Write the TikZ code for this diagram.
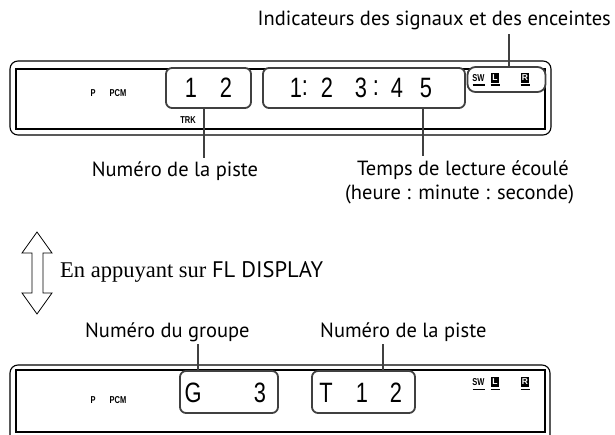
\documentclass[tikz,border=0pt]{standalone}
\usepackage{fontspec}
\setmainfont{Liberation Serif}
\setsansfont{PT Sans}
\newfontfamily\digfont{Liberation Sans}
\definecolor{boxgray}{HTML}{404040}
\begin{document}
\begin{tikzpicture}[x=1pt,y=-1pt,
  frame/.style={draw=black,line width=1.1pt},
  dbox/.style={draw=boxgray,line width=1.8pt,rounded corners=6pt,fill=white,inner sep=0pt},
  leader/.style={draw=boxgray,line width=1.8pt},
  lbl/.style={font=\sffamily\fontsize{20.5}{22}\selectfont,inner sep=0pt},
  dig/.style={font=\digfont\fontsize{28}{28}\selectfont,xscale=0.78,inner sep=0pt},
  small/.style={font=\digfont\bfseries\fontsize{10}{10}\selectfont,xscale=0.75,inner sep=0pt},
  blk/.style={fill=black,text=white,font=\digfont\bfseries\fontsize{8.5}{8.5}\selectfont,minimum width=8.5pt,minimum height=9.5pt,inner sep=0pt},
  uline/.style={draw=black,line width=1.6pt}]
\useasboundingbox (0,0) rectangle (615,435);
\begin{scope}
\clip (0,0) rectangle (615,435);
% top display
\draw[frame,rounded corners=8pt] (10,61) rectangle (551,135);
\draw[frame] (16,69) rectangle (545,129);
\node[small] (p1) at (93,93) {P};
\node[small] (pcm1) at (118,93) {PCM};
\node[small] (trk1) at (188,120) {TRK};
\node[dbox,minimum width=85pt,minimum height=40pt] (trk) at (208.5,88) {};
\node[dbox,minimum width=202pt,minimum height=40pt] (time) at (364,88) {};
\node[dbox,rounded corners=8pt,minimum width=78pt,minimum height=25pt] (ind) at (506.5,79.5) {};
\node[dig] (a1) at (191,88) {1};
\node[dig] (a2) at (226,88) {2};
\node[dig] (b1) at (296,88) {1};
\node[dig] (b2) at (305,88) {:};
\node[dig] (b3) at (327,88) {2};
\node[dig] (b4) at (361,88) {3};
\node[dig] (b5) at (376,88) {:};
\node[dig] (b6) at (397,88) {4};
\node[dig] (b7) at (426,88) {5};
\node[small] (sw1) at (478.5,78) {SW};
\node[blk] (l1) at (495,78) {L};
\node[blk] (r1) at (525,78) {R};
\draw[uline] (472.5,85) -- (485,85);
\draw[uline] (490.5,85) -- (499.5,85);
\draw[uline] (520.5,85) -- (529.5,85);
% top labels
\node[lbl,anchor=east] (indl) at (611,20) {Indicateurs des signaux et des enceintes};
\coordinate (ic) at (509,34);
\draw[leader] (ind.north -| ic) -- (ic);
\node[lbl] (trkl) at (175,171) {Numéro de la piste};
\coordinate (tc) at (204,158);
\draw[leader] (trk.south -| tc) -- (tc);
\node[lbl,anchor=west] (timel) at (357,170) {Temps de lecture écoulé};
\node[lbl,anchor=west] (timel2) at (345,194) {(heure : minute : seconde)};
\coordinate (mc) at (423,156);
\draw[leader] (time.south -| mc) -- (mc);
% double arrow
\draw[line width=0.8pt,line join=miter] (37,232) -- (52,253) -- (43,253) -- (43,293) -- (52,293) -- (37,314) -- (22,293) -- (32,293) -- (32,253) -- (22,253) -- cycle;
\node[anchor=west,inner sep=0pt,font=\fontsize{22.5}{24}\selectfont] (fl) at (60,272) {En appuyant sur {\sffamily FL DISPLAY}};
% bottom display
\draw[frame,rounded corners=8pt] (10,445) -- (10,365) -- (550,365) -- (550,445);
\draw[frame] (16,370) rectangle (545,432);
\node[small] (p2) at (93,400) {P};
\node[small] (pcm2) at (118,400) {PCM};
\node[dbox,minimum width=98pt,minimum height=42pt] (grp) at (229,392) {};
\node[dbox,minimum width=103pt,minimum height=42pt] (trk2) at (363.5,392) {};
\node[dig] (g1) at (193,393) {G};
\node[dig] (g2) at (260,393) {3};
\node[dig] (t1) at (326,393) {T};
\node[dig] (t2) at (362,393) {1};
\node[dig] (t3) at (396,393) {2};
\node[small] (sw2) at (478.5,382) {SW};
\node[blk] (l2) at (495,382) {L};
\node[blk] (r2) at (525,382) {R};
\draw[uline] (472.5,389.5) -- (485,389.5);
\draw[uline] (490.5,389.5) -- (499.5,389.5);
\draw[uline] (520.5,389.5) -- (529.5,389.5);
\node[lbl,anchor=west] (grpl) at (85,332) {Numéro du groupe};
\coordinate (gc) at (198,344);
\draw[leader] (grp.north -| gc) -- (gc);
\node[lbl,anchor=west] (trk2l) at (320,332) {Numéro de la piste};
\coordinate (tc2) at (383,344);
\draw[leader] (trk2.north -| tc2) -- (tc2);
\end{scope}
\end{tikzpicture}
\end{document}
